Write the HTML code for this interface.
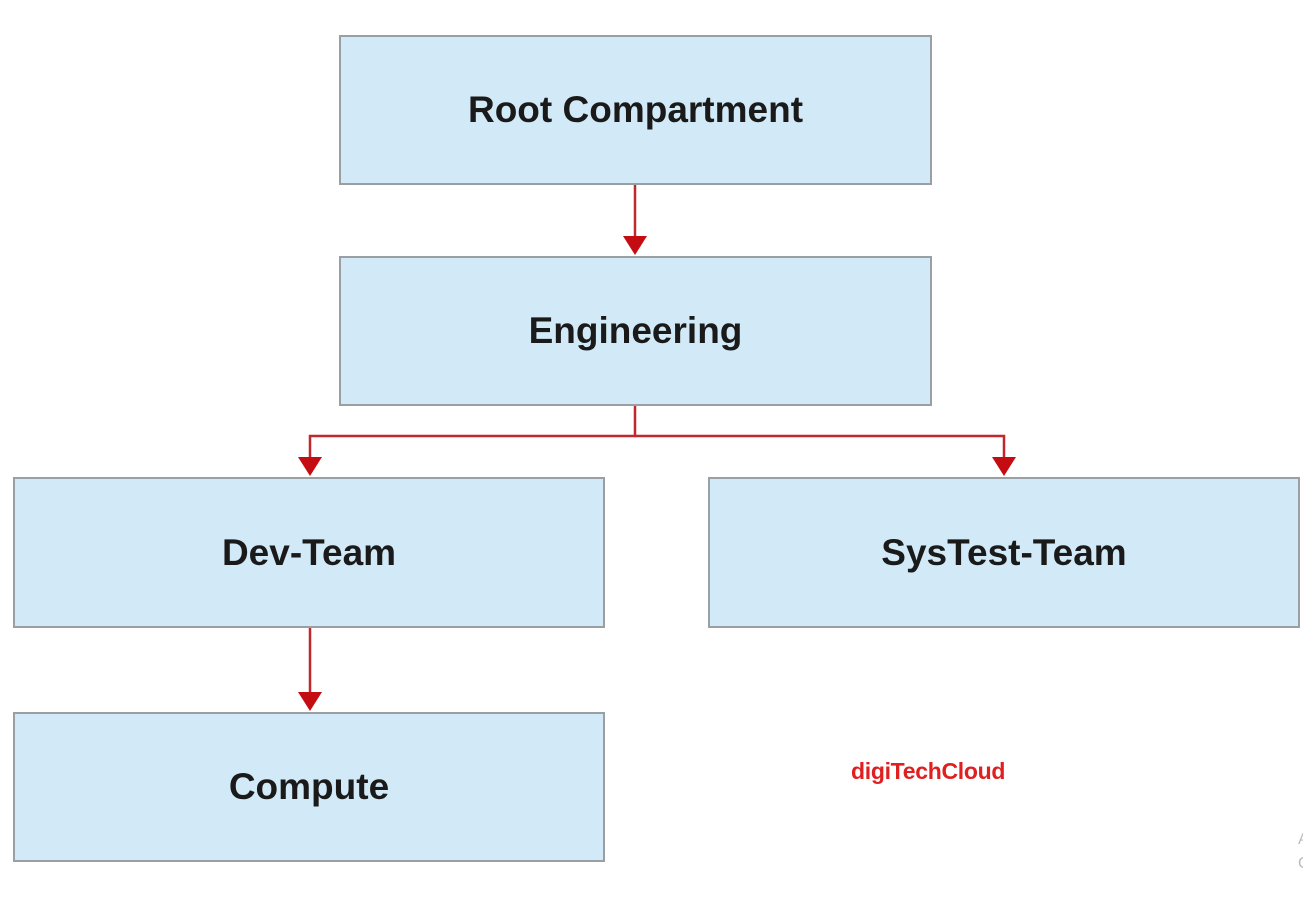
<!DOCTYPE html>
<html><head><style>
body{margin:0;width:1303px;height:899px;background:#fff;position:relative;overflow:hidden;font-family:"Liberation Sans",sans-serif}
.b{position:absolute;background:#d2eaf7;border:2px solid #9a9fa3;box-sizing:border-box;display:flex;align-items:center;justify-content:center;font-weight:bold;font-size:37px;color:#1a1a1a}
</style></head><body>
<div class="b" style="left:339px;top:35px;width:593px;height:150px">Root Compartment</div>
<div class="b" style="left:339px;top:256px;width:593px;height:150px">Engineering</div>
<div class="b" style="left:13px;top:477px;width:592px;height:151px">Dev-Team</div>
<div class="b" style="left:708px;top:477px;width:592px;height:151px">SysTest-Team</div>
<div class="b" style="left:13px;top:712px;width:592px;height:150px">Compute</div>
<svg width="1303" height="899" style="position:absolute;left:0;top:0">
<g stroke="#c0282d" stroke-width="2.5" fill="none">
<path d="M635 185V238"/>
<path d="M635 406V436H310V458"/>
<path d="M635 436H1004V458"/>
<path d="M310 628V694"/>
</g>
<g fill="#c40d12">
<path d="M623 236h24l-12 19z"/>
<path d="M298 457h24l-12 19z"/>
<path d="M992 457h24l-12 19z"/>
<path d="M298 692h24l-12 19z"/>
</g>
</svg>
<div style="position:absolute;left:851px;top:758px;color:#e02020;font-weight:bold;font-size:23px;letter-spacing:-0.3px">digiTechCloud</div>
<div style="position:absolute;left:1298px;top:828px;color:#bbb;font-size:16px;line-height:24px">A<br>C</div>
</body></html>
